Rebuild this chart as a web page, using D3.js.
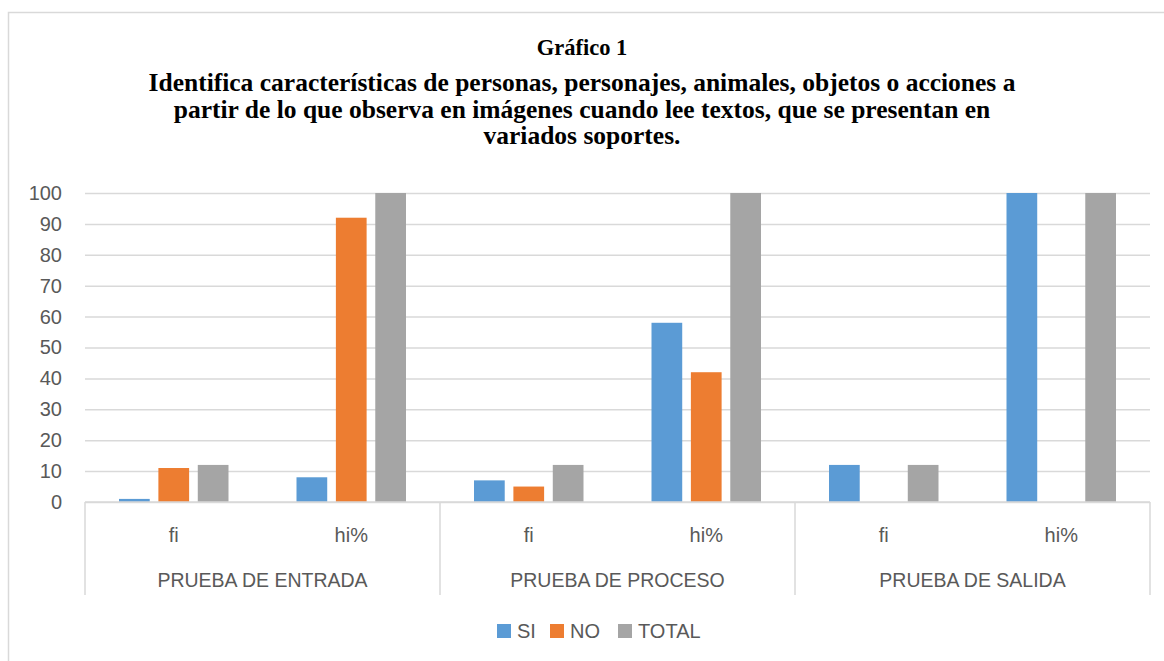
<!DOCTYPE html>
<html>
<head>
<meta charset="utf-8">
<script src="https://cdn.jsdelivr.net/npm/d3@7"></script>
<style>
  html, body { margin: 0; padding: 0; background: #fff; }
  svg { display: block; }
</style>
</head>
<body>
<svg id="chart" width="1164" height="661"></svg>
<script>
// Test groups and their sub-categories
const groups = ["PRUEBA DE ENTRADA", "PRUEBA DE PROCESO", "PRUEBA DE SALIDA"];
const subLabels = ["fi", "hi%"];
const categories = ["entrada-fi", "entrada-hi", "proceso-fi", "proceso-hi", "salida-fi", "salida-hi"];

// Series values, one per category
const seriesNames = ["SI", "NO", "TOTAL"];
const siValues = [1, 8, 7, 58, 12, 100];
const noValues = [11, 92, 5, 42, 0, 0];
const totalValues = [12, 100, 12, 100, 12, 100];

const yTicks = [0, 10, 20, 30, 40, 50, 60, 70, 80, 90, 100];

const titleHeading = "Gráfico 1";
const titleLines = [
  "Identifica características de personas, personajes, animales, objetos o acciones a",
  "partir de lo que observa en imágenes cuando lee textos, que se presentan en",
  "variados soportes."
];

const colors = { SI: "#5B9BD5", NO: "#ED7D31", TOTAL: "#A5A5A5" };
const gridColor = "#D9D9D9";
const textColor = "#595959";
const labelFont = "'Liberation Sans', Arial, sans-serif";
const titleFont = "'Liberation Serif', 'Times New Roman', serif";

const svg = d3.select("#chart");

// Outer chart frame
svg.append("rect")
  .attr("x", 8.5).attr("y", 12.5)
  .attr("width", 1180).attr("height", 680)
  .attr("fill", "#fff")
  .attr("stroke", gridColor)
  .attr("stroke-width", 1.5);

// Title: heading line plus the indicator statement
svg.append("text")
  .attr("x", 582).attr("y", 55)
  .attr("text-anchor", "middle")
  .attr("font-family", titleFont)
  .attr("font-weight", "bold")
  .attr("font-size", 22.5)
  .attr("fill", "#000")
  .text(titleHeading);

const title = svg.append("text")
  .attr("text-anchor", "middle")
  .attr("font-family", titleFont)
  .attr("font-weight", "bold")
  .attr("font-size", 25.5)
  .attr("fill", "#000");
const titleY = [91, 117.5, 143.5];
titleLines.forEach((t, i) => {
  title.append("tspan").attr("x", 582).attr("y", titleY[i]).text(t);
});

// Plot area
const plot = { left: 85, right: 1150, top: 193, bottom: 502 };

const x0 = d3.scaleBand()
  .domain(categories)
  .range([plot.left, plot.right])
  .padding(0);

const outerGap = 34;
const x1 = d3.scaleBand()
  .domain(seriesNames)
  .range([outerGap, x0.bandwidth() - outerGap])
  .paddingInner(0.22)
  .paddingOuter(0);

const y = d3.scaleLinear()
  .domain([0, 100])
  .range([plot.bottom, plot.top]);

// Horizontal gridlines and value axis labels
const yAxis = d3.axisLeft(y)
  .tickValues(yTicks)
  .tickSize(-(plot.right - plot.left))
  .tickPadding(23)
  .tickFormat(d3.format("d"));

const yg = svg.append("g")
  .attr("transform", `translate(${plot.left},0)`)
  .call(yAxis);
yg.select(".domain").remove();
yg.selectAll(".tick line")
  .attr("stroke", gridColor)
  .attr("stroke-width", 1.5);
yg.selectAll(".tick text")
  .attr("fill", textColor)
  .attr("font-family", labelFont)
  .attr("font-size", 20);

// Bars
const rows = categories.map((c, i) => ({
  cat: c,
  values: [
    { key: "SI", value: siValues[i] },
    { key: "NO", value: noValues[i] },
    { key: "TOTAL", value: totalValues[i] }
  ]
}));

const catG = svg.append("g").selectAll("g")
  .data(rows)
  .join("g")
  .attr("transform", d => `translate(${x0(d.cat)},0)`);

catG.selectAll("rect")
  .data(d => d.values.filter(v => v.value > 0))
  .join("rect")
  .attr("x", d => x1(d.key))
  .attr("y", d => y(d.value))
  .attr("width", x1.bandwidth())
  .attr("height", d => y(0) - y(d.value))
  .attr("fill", d => colors[d.key]);

// Category axis: baseline, group separators and labels
svg.append("line")
  .attr("x1", plot.left).attr("x2", plot.right)
  .attr("y1", y(0)).attr("y2", y(0))
  .attr("stroke", gridColor).attr("stroke-width", 1.5);

const groupWidth = (plot.right - plot.left) / groups.length;
const sepX = d3.range(groups.length + 1).map(i => plot.left + i * groupWidth);
svg.append("g").selectAll("line")
  .data(sepX)
  .join("line")
  .attr("x1", d => d).attr("x2", d => d)
  .attr("y1", y(0)).attr("y2", 595)
  .attr("stroke", gridColor).attr("stroke-width", 1.5);

svg.append("g").selectAll("text")
  .data(categories)
  .join("text")
  .attr("x", d => x0(d) + x0.bandwidth() / 2)
  .attr("y", 542)
  .attr("text-anchor", "middle")
  .attr("font-family", labelFont)
  .attr("font-size", 20)
  .attr("fill", textColor)
  .text((d, i) => subLabels[i % 2]);

svg.append("g").selectAll("text")
  .data(groups)
  .join("text")
  .attr("x", (d, i) => plot.left + (i + 0.5) * groupWidth)
  .attr("y", 587)
  .attr("text-anchor", "middle")
  .attr("font-family", labelFont)
  .attr("font-size", 19.5)
  .attr("fill", textColor)
  .text(d => d);

// Legend
const legendItems = [
  { key: "SI", x: 497 },
  { key: "NO", x: 550 },
  { key: "TOTAL", x: 618 }
];
const lg = svg.append("g").selectAll("g")
  .data(legendItems)
  .join("g")
  .attr("transform", d => `translate(${d.x},624)`);
lg.append("rect")
  .attr("width", 14).attr("height", 14)
  .attr("fill", d => colors[d.key]);
lg.append("text")
  .attr("x", 20).attr("y", 14)
  .attr("font-family", labelFont)
  .attr("font-size", 20)
  .attr("fill", textColor)
  .text(d => d.key);
</script>
</body>
</html>
